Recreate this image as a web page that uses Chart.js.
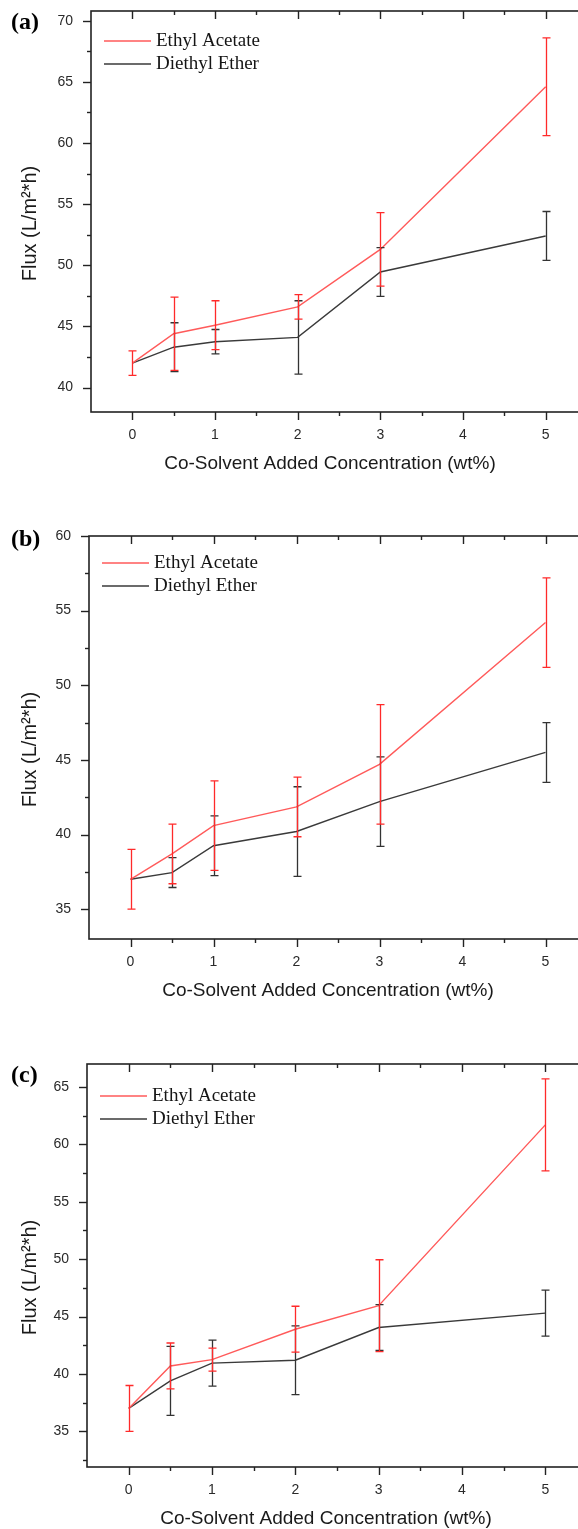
<!DOCTYPE html>
<html>
<head>
<meta charset="utf-8">
<script src="https://cdn.jsdelivr.net/npm/chart.js@4.4.0/dist/chart.umd.min.js"></script>
<style>
  html, body { margin: 0; padding: 0; background: #fff; overflow: hidden; width: 578px; height: 1529px; }
  canvas.panel { position: absolute; left: 0; }
</style>
</head>
<body>
<canvas id="chartA" class="panel" width="640" height="512" style="top:-20px"></canvas>
<canvas id="chartB" class="panel" width="640" height="519" style="top:500px"></canvas>
<canvas id="chartC" class="panel" width="640" height="517" style="top:1030px"></canvas>
<script>
/* three flux panels, (a) (b) (c) */

// Data
const concentrations = [0, 0.5, 1, 2, 3, 5];   // wt%
const xTickValues = [0, 1, 2, 3, 4, 5];
const seriesNames = ['Ethyl Acetate', 'Diethyl Ether'];

// (a)
const fluxA_ethylAcetate = [42.0, 44.4, 45.1, 46.6, 51.3, 64.6];
const errA_ethylAcetate  = [1.0, 3.0, 2.0, 1.0, 3.0, 4.0];
const fluxA_diethylEther = [42.0, 43.3, 43.75, 44.1, 49.45, 52.4];
const errA_diethylEther  = [0, 2.0, 1.0, 3.0, 2.0, 2.0];
const yTicksA = [40, 45, 50, 55, 60, 65, 70];

// (b)
const fluxB_ethylAcetate = [37.0, 38.7, 40.6, 41.85, 44.7, 54.2];
const errB_ethylAcetate  = [2.0, 2.0, 3.0, 2.0, 4.0, 3.0];
const fluxB_diethylEther = [37.0, 37.45, 39.25, 40.2, 42.2, 45.5];
const errB_diethylEther  = [0, 1.0, 2.0, 3.0, 3.0, 2.0];
const yTicksB = [35, 40, 45, 50, 55, 60];

// (c)
const fluxC_ethylAcetate = [37.0, 40.7, 41.25, 43.9, 45.95, 61.7];
const errC_ethylAcetate  = [2.0, 2.0, 1.0, 2.0, 4.0, 4.0];
const fluxC_diethylEther = [37.0, 39.4, 40.95, 41.2, 44.05, 45.3];
const errC_diethylEther  = [0, 3.0, 2.0, 3.0, 2.0, 2.0];
const yTicksC = [35, 40, 45, 50, 55, 60, 65];

// Styles
const EA_LINE = '#ff5a5a', EA_ERR = '#ff2a2a';
const DE_LINE = '#3a3a3a', DE_ERR = '#333333';
const AXIS_COLOR = '#222';
const SANS = "'Liberation Sans', Arial, sans-serif";
const SERIF = "'Liberation Serif', 'Times New Roman', serif";

const panels = [
  { canvasId: 'chartA', tag: '(a)', canvasTop: -20, top: 11, bottom: 412, left: 91,
    ea: fluxA_ethylAcetate, eaErr: errA_ethylAcetate, de: fluxA_diethylEther, deErr: errA_diethylEther,
    yMin: 38, yMax: 70.8, yTicks: yTicksA, legendDy: 30, tagDy: 18 },
  { canvasId: 'chartB', tag: '(b)', canvasTop: 500, top: 536, bottom: 939, left: 89,
    ea: fluxB_ethylAcetate, eaErr: errB_ethylAcetate, de: fluxB_diethylEther, deErr: errB_diethylEther,
    yMin: 33, yMax: 60, yTicks: yTicksB, legendDy: 27, tagDy: 10 },
  { canvasId: 'chartC', tag: '(c)', canvasTop: 1030, top: 1064, bottom: 1467, left: 87,
    ea: fluxC_ethylAcetate, eaErr: errC_ethylAcetate, de: fluxC_diethylEther, deErr: errC_diethylEther,
    yMin: 31.9, yMax: 67, yTicks: yTicksC, legendDy: 32, tagDy: 18 }
];

const RIGHT_EDGE = 587;

// error bars, box, minor ticks, legend, panel tag, axis titles
const decorPlugin = {
  id: 'decor',
  afterDatasetsDraw(chart) {
    const ctx = chart.ctx, xs = chart.scales.x, ys = chart.scales.y;
    // error bars: ether first, acetate on top
    [1, 0].forEach(di => {
      const ds = chart.data.datasets[di];
      ctx.save();
      ctx.strokeStyle = ds.errColor;
      ctx.lineWidth = 1.3;
      ds.data.forEach((pt, i) => {
        const e = ds.errors[i];
        if (!e) return;
        const px = Math.round(xs.getPixelForValue(pt.x)) + 0.5;
        const yTop = ys.getPixelForValue(pt.y + e);
        const yBot = ys.getPixelForValue(pt.y - e);
        ctx.beginPath();
        ctx.moveTo(px, yTop); ctx.lineTo(px, yBot);
        ctx.moveTo(px - 4, yTop); ctx.lineTo(px + 4, yTop);
        ctx.moveTo(px - 4, yBot); ctx.lineTo(px + 4, yBot);
        ctx.stroke();
      });
      ctx.restore();
    });
  },
  afterDraw(chart) {
    const ctx = chart.ctx, xs = chart.scales.x, ys = chart.scales.y;
    const a = chart.chartArea;
    const p = chart.options.panel;
    ctx.save();
    ctx.strokeStyle = AXIS_COLOR;
    ctx.lineWidth = 1.6;
    ctx.strokeRect(a.left, a.top, a.right - a.left, a.bottom - a.top);

    ctx.lineWidth = 1.4;
    // x ticks (bottom outward, top inward)
    for (let v = 0; v <= 5; v += 0.5) {
      const len = Number.isInteger(v) ? 8 : 4;
      const px = Math.round(xs.getPixelForValue(v)) + 0.5;
      ctx.beginPath();
      ctx.moveTo(px, a.bottom); ctx.lineTo(px, a.bottom + len);
      ctx.moveTo(px, a.top); ctx.lineTo(px, a.top + len);
      ctx.stroke();
    }
    // y ticks (left outward)
    const step = p.yTicks[1] - p.yTicks[0];
    for (let v = p.yTicks[0] - step / 2; v <= p.yMax; v += step / 2) {
      if (v < p.yMin) continue;
      const major = p.yTicks.includes(v);
      const py = Math.round(ys.getPixelForValue(v)) + 0.5;
      ctx.beginPath();
      ctx.moveTo(a.left, py); ctx.lineTo(a.left - (major ? 8 : 4), py);
      ctx.stroke();
    }

    // legend
    const lx = a.left + 13, ly = a.top + p.legendDy;
    ctx.font = '19px ' + SERIF;
    ctx.textBaseline = 'middle';
    ctx.fillStyle = '#151515';
    [[EA_LINE, seriesNames[0]], [DE_LINE, seriesNames[1]]].forEach(([c, name], i) => {
      const y = ly + i * 23;
      ctx.strokeStyle = c;
      ctx.lineWidth = 1.4;
      ctx.beginPath(); ctx.moveTo(lx, y); ctx.lineTo(lx + 47, y); ctx.stroke();
      ctx.fillText(name, lx + 52, y);
    });

    // panel tag
    ctx.font = 'bold 24px ' + SERIF;
    ctx.textBaseline = 'alphabetic';
    ctx.fillStyle = '#000';
    ctx.fillText(p.tag, 11, a.top + p.tagDy);

    // x title
    ctx.font = '19px ' + SANS;
    ctx.textAlign = 'center';
    ctx.textBaseline = 'middle';
    ctx.fillStyle = '#1a1a1a';
    ctx.fillText('Co-Solvent Added Concentration (wt%)', a.left + 239, a.bottom + 52);

    // y title (sits a little below the middle of the axis)
    ctx.save();
    ctx.translate(30, (a.top + a.bottom) / 2 + 12);
    ctx.rotate(-Math.PI / 2);
    ctx.font = '20px ' + SANS;
    ctx.fillText('Flux (L/m²*h)', 0, 0);
    ctx.restore();
    ctx.restore();
  }
};

function makeChart(p) {
  const canvas = document.getElementById(p.canvasId);
  const W = canvas.width;
  return new Chart(canvas, {
    type: 'line',
    data: {
      datasets: [
        { label: seriesNames[0], data: concentrations.map((x, i) => ({ x, y: p.ea[i] })),
          errors: p.eaErr, errColor: EA_ERR, borderColor: EA_LINE, borderWidth: 1.4,
          pointRadius: 0, tension: 0, fill: false },
        { label: seriesNames[1], data: concentrations.map((x, i) => ({ x, y: p.de[i] })),
          errors: p.deErr, errColor: DE_ERR, borderColor: DE_LINE, borderWidth: 1.4,
          pointRadius: 0, tension: 0, fill: false }
      ]
    },
    options: {
      panel: p,
      responsive: false,
      animation: false,
      devicePixelRatio: 1,
      layout: { padding: { top: p.top - p.canvasTop, right: W - RIGHT_EDGE, left: 0, bottom: 0 } },
      plugins: { legend: { display: false }, tooltip: { enabled: false } },
      scales: {
        x: {
          type: 'linear', min: -0.5, max: 5.5,
          afterBuildTicks: s => { s.ticks = xTickValues.map(v => ({ value: v })); },
          afterFit: s => { s.height = 80; },
          grid: { display: false, drawTicks: false },
          border: { display: false },
          ticks: { font: { family: SANS, size: 14 }, color: '#2a2a2a', padding: 15, maxRotation: 0 }
        },
        y: {
          type: 'linear', min: p.yMin, max: p.yMax,
          afterBuildTicks: s => { s.ticks = p.yTicks.map(v => ({ value: v })); },
          afterFit: s => { s.width = p.left; },
          grid: { display: false, drawTicks: false },
          border: { display: false },
          ticks: { font: { family: SANS, size: 14 }, color: '#2a2a2a', padding: 18 }
        }
      }
    },
    plugins: [decorPlugin]
  });
}

panels.forEach(p => {
  const c = document.getElementById(p.canvasId);
  c.height = p.bottom - p.canvasTop + 80;
  makeChart(p);
});
</script>
</body>
</html>
